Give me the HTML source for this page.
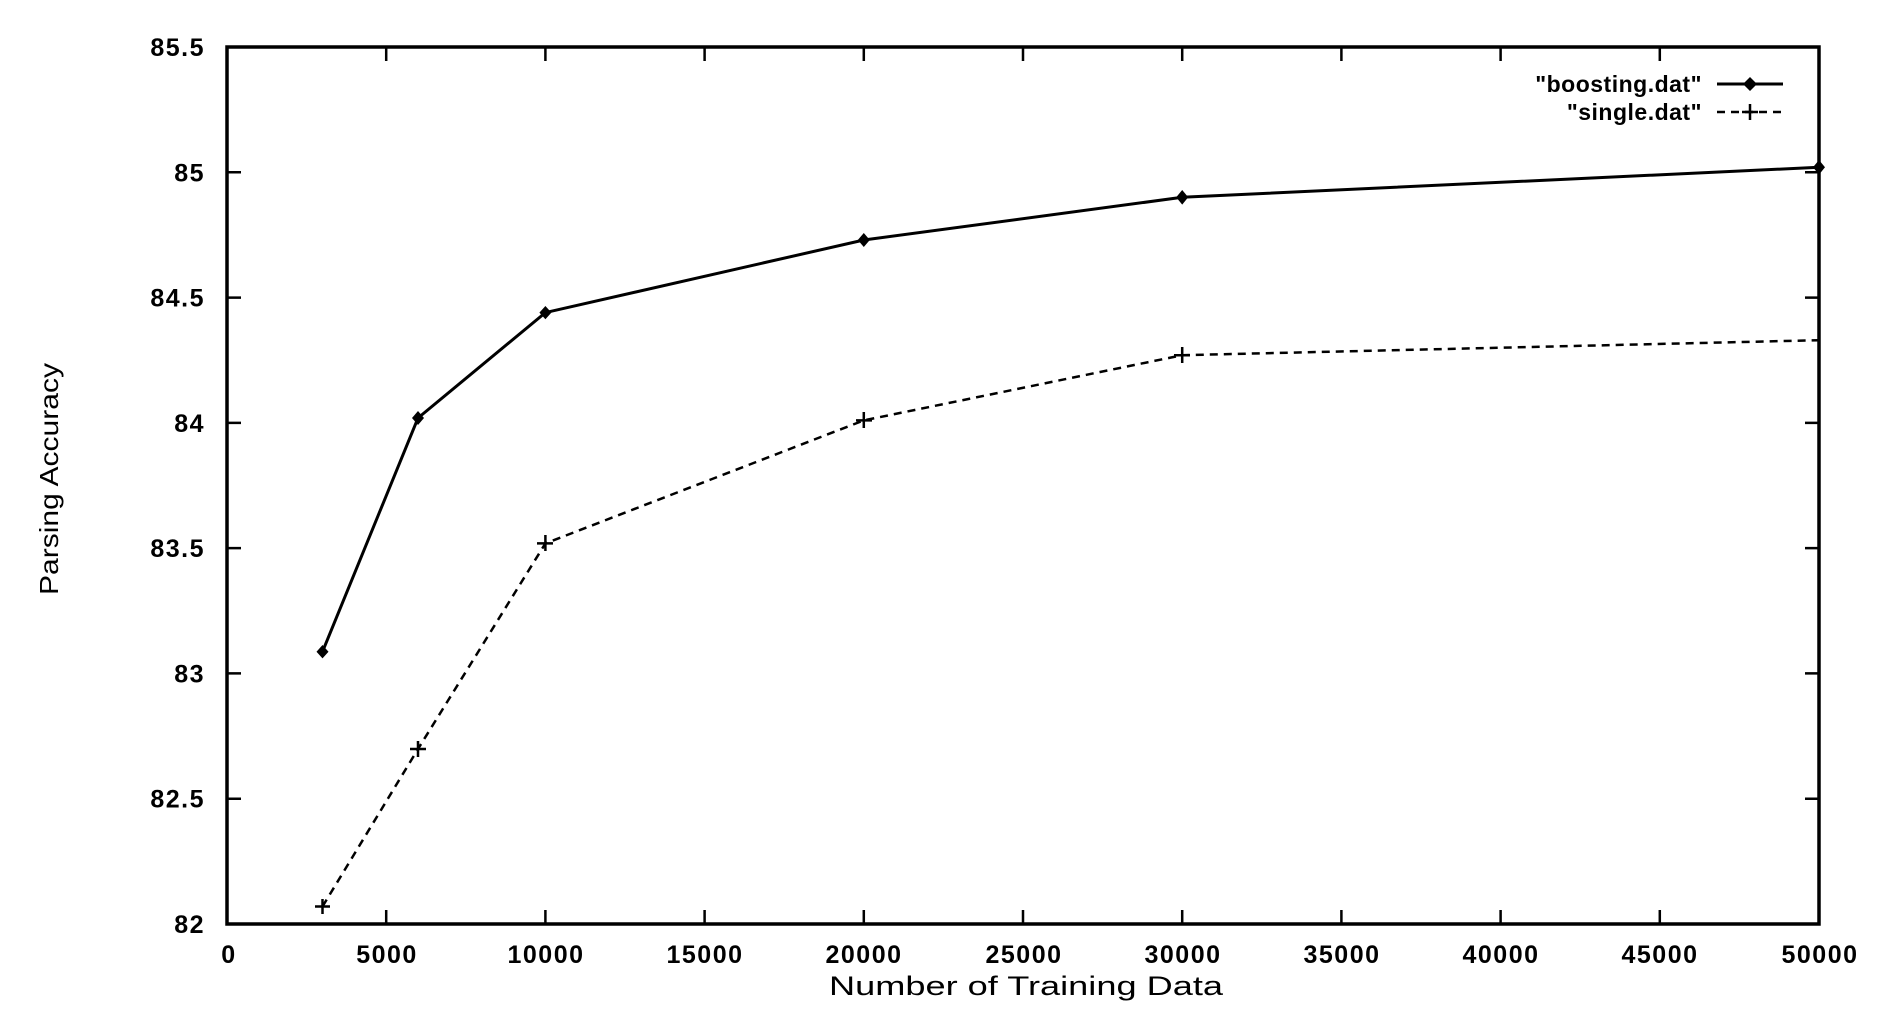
<!DOCTYPE html>
<html><head><meta charset="utf-8"><style>html,body{margin:0;padding:0;background:#fff}</style></head>
<body>
<svg xmlns="http://www.w3.org/2000/svg" width="1886" height="1010" viewBox="0 0 1886 1010" font-family="Liberation Sans, Arial, sans-serif" font-weight="bold" font-size="21" fill="#000">
<rect width="1886" height="1010" fill="#fff"/>
<g stroke="#000" stroke-width="2.5" fill="none">
<rect x="227" y="47" width="1592" height="877" stroke-width="3.5"/>
<path d="M227 924h14M227 798.7h14M227 673.4h14M227 548.1h14M227 422.9h14M227 297.6h14M227 172.3h14M1819 798.7h-14M1819 673.4h-14M1819 548.1h-14M1819 422.9h-14M1819 297.6h-14M1819 172.3h-14"/>
<path d="M386.2 924v-14M545.4 924v-14M704.6 924v-14M863.8 924v-14M1023 924v-14M1182.2 924v-14M1341.4 924v-14M1500.6 924v-14M1659.8 924v-14M386.2 47v14M545.4 47v14M704.6 47v14M863.8 47v14M1023 47v14M1182.2 47v14M1341.4 47v14M1500.6 47v14M1659.8 47v14"/>
<polyline stroke-width="3" points="322.5,651.7 418,418 545.4,312.6 863.8,240 1182.2,197.3 1819,167.3"/>
<polyline stroke-width="2.5" stroke-dasharray="8,6" points="322.5,906.5 418,749 545.4,543.4 863.8,420.4 1182.2,355.2 1819,340.2"/>
<line x1="1717" y1="84" x2="1783" y2="84" stroke-width="3"/>
<line x1="1717" y1="112" x2="1783" y2="112" stroke-dasharray="8,6"/>
</g>
<g>
<path d="M322.5 645l6 6.7-6 6.7-6-6.7z M418 411l6 7-6 7-6-7z M545.4 306l6 6.6-6 6.6-6-6.6z M863.8 233l6 7-6 7-6-7z M1182.2 190l6 7.3-6 7.3-6-7.3z M1819 160l6 7.3-6 7.3-6-7.3z M1750 77l7 7-7 7-7-7z"/>
</g>
<g stroke="#000" stroke-width="2.5">
<path d="M315 906.5h15M322.5 899v15M410 749h16M418 741v16M537 543.4h16M545.4 535v16M856 420.4h16M863.8 412v16M1174 355.2h16M1182.2 347v16M1742 112h16M1750 104v16"/>
</g>
<g text-anchor="end" font-size="25" letter-spacing="1.5">
<text x="205" y="933">82</text>
<text x="205" y="807.7">82.5</text>
<text x="205" y="682.4">83</text>
<text x="205" y="557.1">83.5</text>
<text x="205" y="431.9">84</text>
<text x="205" y="306.6">84.5</text>
<text x="205" y="181.3">85</text>
<text x="205" y="56">85.5</text>
</g>
<g text-anchor="end" font-size="23" letter-spacing="0.5">
<text x="1702" y="92">"boosting.dat"</text>
<text x="1702" y="120">"single.dat"</text>
</g>
<g text-anchor="middle" font-size="25" letter-spacing="1.5">
<text x="229" y="963">0</text>
<text x="387" y="963">5000</text>
<text x="546" y="963">10000</text>
<text x="705" y="963">15000</text>
<text x="864" y="963">20000</text>
<text x="1024" y="963">25000</text>
<text x="1183" y="963">30000</text>
<text x="1342" y="963">35000</text>
<text x="1501" y="963">40000</text>
<text x="1660" y="963">45000</text>
<text x="1820" y="963">50000</text>
</g>
<g text-anchor="middle" font-weight="normal">
<text x="1026" y="995" font-size="27" textLength="394" lengthAdjust="spacingAndGlyphs">Number of Training Data</text>
<text transform="translate(58,479) rotate(-90)" font-size="26" textLength="232" lengthAdjust="spacingAndGlyphs">Parsing Accuracy</text>
</g>
</svg>
</body></html>
